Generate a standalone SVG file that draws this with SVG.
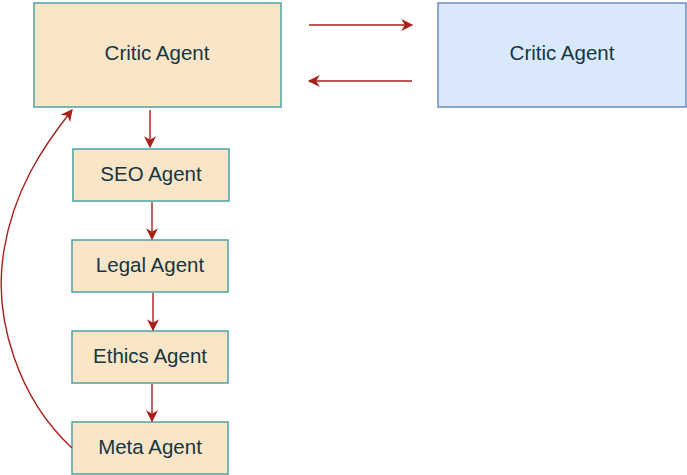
<svg xmlns="http://www.w3.org/2000/svg" width="687" height="475" viewBox="0 0 687 475">
<defs>
<marker id="ah" viewBox="0 0 10 10" refX="9" refY="5" markerWidth="13" markerHeight="12" markerUnits="userSpaceOnUse" orient="auto">
<path d="M0,0 L10,5 L0,10 L3,5 Z" fill="#A8201A"/>
</marker>
<style>
.n{fill:#FAE5C7;stroke:#4BA3A5;stroke-width:1.5}
.b{fill:#DAE8FC;stroke:#6C8EBF;stroke-width:1.5}
.t{font-family:"Liberation Sans",Arial,sans-serif;font-size:20.5px;fill:#143642;text-anchor:middle;dominant-baseline:central}
.e{fill:none;stroke:#A8201A;stroke-width:1.4;marker-end:url(#ah)}
</style>
</defs>
<g id="critic"><rect class="n" x="34" y="3" width="247" height="104"/><text class="t" x="157" y="52.5">Critic Agent</text></g>
<g id="critic2"><rect class="b" x="438" y="3" width="248" height="104"/><text class="t" x="562" y="52.5">Critic Agent</text></g>
<g id="seo"><rect class="n" x="73" y="149" width="156" height="52"/><text class="t" x="151" y="173.5">SEO Agent</text></g>
<g id="legal"><rect class="n" x="72" y="240" width="156" height="52"/><text class="t" x="150" y="264.5">Legal Agent</text></g>
<g id="ethics"><rect class="n" x="72" y="331" width="156" height="52"/><text class="t" x="150" y="355.5">Ethics Agent</text></g>
<g id="meta"><rect class="n" x="72" y="422" width="156" height="52"/><text class="t" x="150" y="446.5">Meta Agent</text></g>
<g id="connectors">
<path class="e" d="M309,25 L412,25"/>
<path class="e" d="M412,81 L309,81"/>
<path class="e" d="M150,110 L150,147"/>
<path class="e" d="M152,202 L152,239"/>
<path class="e" d="M153,293 L153,330"/>
<path class="e" d="M152,384 L152,421"/>
<path class="e" d="M72,448 C20,400 -8,320 4,250 C14,190 42,148 72,110"/>
</g>
</svg>
